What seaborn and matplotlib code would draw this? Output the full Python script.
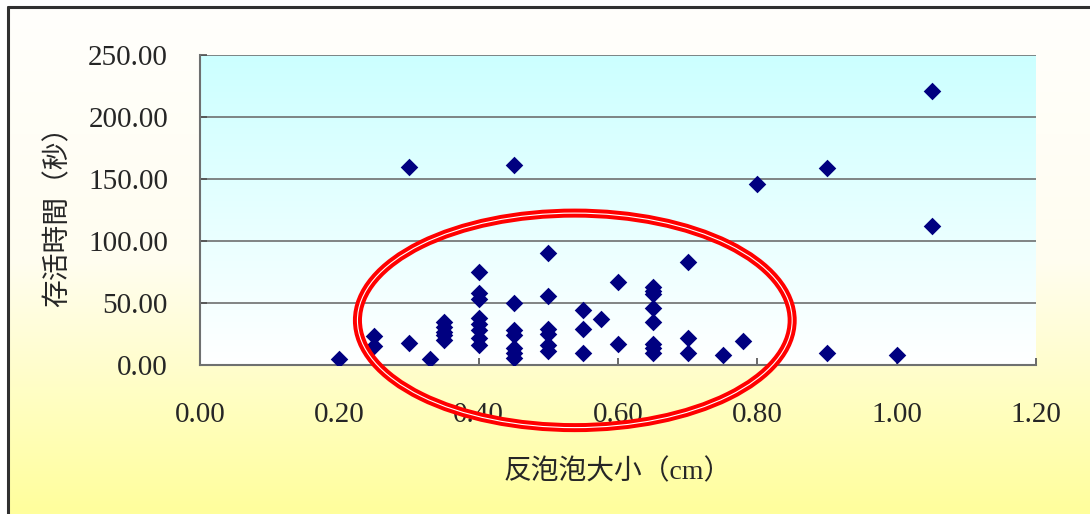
import numpy as np
import pandas as pd
import matplotlib
matplotlib.use("Agg")
import matplotlib.pyplot as plt
import seaborn as sns
from matplotlib.patches import Ellipse
from matplotlib.lines import Line2D
from matplotlib.colors import LinearSegmentedColormap

# ---- data ----
size_cm = [0.20,
           0.25, 0.25,
           0.30, 0.30,
           0.33,
           0.35, 0.35, 0.35, 0.35, 0.35,
           0.40, 0.40, 0.40, 0.40, 0.40, 0.40, 0.40, 0.40,
           0.45, 0.45, 0.45, 0.45, 0.45, 0.45, 0.45,
           0.50, 0.50, 0.50, 0.50, 0.50, 0.50,
           0.55, 0.55, 0.55,
           0.575,
           0.60, 0.60,
           0.65, 0.65, 0.65, 0.65, 0.65, 0.65, 0.65, 0.65,
           0.70, 0.70, 0.70,
           0.75,
           0.78,
           0.80,
           0.90, 0.90,
           1.00,
           1.05, 1.05]
survival_s = [5,
              23, 15,
              160, 18,
              5,
              35, 31, 27, 24, 20,
              75, 58, 53, 38, 33, 28, 22, 16,
              161, 50, 28, 24, 14, 10, 6,
              90, 56, 29, 25, 16, 11,
              44, 29, 10,
              37,
              67, 17,
              63, 60, 57, 46, 35, 17, 14, 10,
              83, 22, 10,
              8,
              19,
              146,
              159, 10,
              8,
              221, 112]
x_ticks = [0.0, 0.2, 0.4, 0.6, 0.8, 1.0, 1.2]
y_ticks = [0, 50, 100, 150, 200, 250]
x_label = "反泡泡大小（cm）"
y_label = "存活時間（秒）"

df = pd.DataFrame({"size": size_cm, "time": survival_s})

sns.set_theme(style="white")
plt.rcParams['font.family'] = ['Liberation Serif', 'Noto Sans CJK TC', 'DejaVu Sans']

fig = plt.figure(figsize=(10.9, 5.14), dpi=100)
fig.patch.set_facecolor("white")

# chart-area background gradient (near white -> pale yellow), inside the border
bx0, by1 = 8/1090, 1 - 7/514
bg = fig.add_axes([bx0, 0, 1 - bx0, by1], zorder=-10)
grad = np.linspace(0, 1, 256).reshape(-1, 1)
cmap_fig = LinearSegmentedColormap.from_list("figbg", ["#FFFFFC", "#FFFDF0", "#FFFF9C"])
bg.imshow(grad, aspect="auto", cmap=cmap_fig, extent=[0, 1, 0, 1], origin="upper")
bg.set_axis_off()

# border: top and left lines only (rest lies outside the image)
fig.add_artist(Line2D([bx0, 1], [by1, by1], transform=fig.transFigure, color="#303030", linewidth=2.2))
fig.add_artist(Line2D([bx0, bx0], [0, by1], transform=fig.transFigure, color="#303030", linewidth=2.2))

ax = fig.add_axes([200/1090, 1 - 365/514, 836/1090, 310/514])
ax.set_facecolor("none")

# plot area gradient (cyan -> white)
cmap_ax = LinearSegmentedColormap.from_list("axbg", ["#CCFFFF", "#FFFFFF"])
ax.imshow(grad, aspect="auto", cmap=cmap_ax, extent=[0, 1, 0, 1], origin="upper",
          transform=ax.transAxes, zorder=0)

sns.scatterplot(data=df, x="size", y="time", marker="D", color="#000080",
                s=80, edgecolor="#000080", linewidth=0, ax=ax, zorder=3)

ax.set_xlim(0, 1.2)
ax.set_ylim(0, 250)
ax.set_xticks(x_ticks)
ax.set_yticks(y_ticks)
ax.set_xticklabels([f"{v:.2f}" for v in x_ticks], fontsize=21)
ax.set_yticklabels([f"{v:.2f}" for v in y_ticks], fontsize=21)
ax.yaxis.grid(True, color="#6E7070", linewidth=1.2)
for gl in ax.get_ygridlines():
    gl.set_zorder(1)
ax.xaxis.grid(False)
for side in ["top", "right"]:
    ax.spines[side].set_visible(False)
for side in ["left", "bottom"]:
    ax.spines[side].set_color("#6E7070")
    ax.spines[side].set_linewidth(1.5)
ax.tick_params(axis="both", direction="in", length=5, color="#505050", width=1.2,
               bottom=True, left=True)
ax.tick_params(axis="y", pad=23)
ax.tick_params(axis="x", pad=27)

ax.set_xlabel(x_label, fontsize=20, labelpad=22)
ax.set_ylabel(y_label, fontsize=20, labelpad=12)

# red highlight ellipse (double line)
ell_red = Ellipse((0.538, 36), width=0.624, height=173, fill=False,
                  edgecolor="#FF0000", linewidth=6.5, clip_on=False, zorder=4)
ell_white = Ellipse((0.538, 36), width=0.624, height=173, fill=False,
                    edgecolor="#FFFFFF", linewidth=0.8, clip_on=False, zorder=4.5)
ax.add_patch(ell_red)
ax.add_patch(ell_white)

fig.savefig("out.png", dpi=100)
